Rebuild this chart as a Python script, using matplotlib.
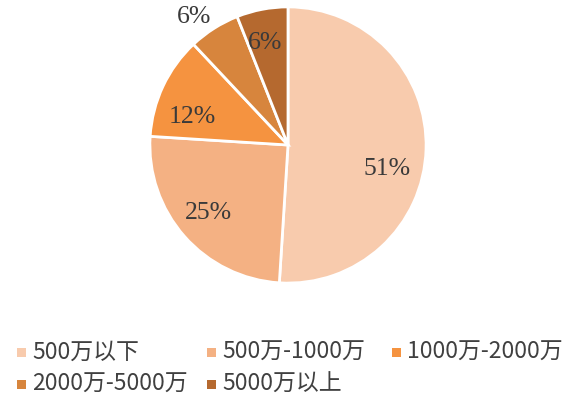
import numpy as np
import matplotlib
matplotlib.use('Agg')
from matplotlib import pyplot as plt
from matplotlib.patches import Rectangle

plt.rcParams['font.family'] = ['Noto Sans CJK SC', 'DejaVu Sans']

labels = ['500万以下', '500万-1000万', '1000万-2000万', '2000万-5000万', '5000万以上']
shares = [51, 25, 12, 6, 6]
colors = ['#F8CBAD', '#F4B183', '#F59340', '#D7853D', '#B5692F']

W, H = 574, 405
fig = plt.figure(figsize=(W / 100, H / 100), dpi=100)
# square axes, pie centre at about (288, 145) px from top-left
ax = fig.add_axes([(288 - 145) / W, (260 - 145) / H, 290 / W, 290 / H])
wedges, _ = ax.pie(shares, colors=colors, startangle=90, counterclock=False,
                   wedgeprops=dict(edgecolor='white', linewidth=2))
ax.set_xlim(-1.05, 1.05)
ax.set_ylim(-1.05, 1.05)
ax.set_aspect('equal')
ax.axis('off')

# label radius / angle tweak per slice
dist = [0.74, 0.76, 0.72, 1.15, 0.76]
dang = [-12, -1, 9, 4, 2]
for w, v, r, da in zip(wedges, shares, dist, dang):
    ang = np.deg2rad((w.theta1 + w.theta2) / 2 + da)
    ax.text(r * np.cos(ang), r * np.sin(ang), '%d%%' % v, ha='center', va='center',
            fontsize=18.5, color='#3a3a3a', family=['Liberation Serif'])

# legend laid out like the office one: 3 slots per row, pixel positions
col_x = [17, 207, 392]
row_y = [352, 384]
sq = 9
for i, (lab, c) in enumerate(zip(labels, colors)):
    x = col_x[i % 3]
    y = row_y[i // 3]
    fig.patches.append(Rectangle((x / W, 1 - (y + sq / 2) / H), sq / W, sq / H,
                                 transform=fig.transFigure, facecolor=c,
                                 edgecolor='none'))
    fig.text((x + 15) / W, 1 - y / H, lab, ha='left', va='center',
             fontsize=16.5, color='#404040')

fig.savefig('out.png', dpi=100, facecolor='white')
